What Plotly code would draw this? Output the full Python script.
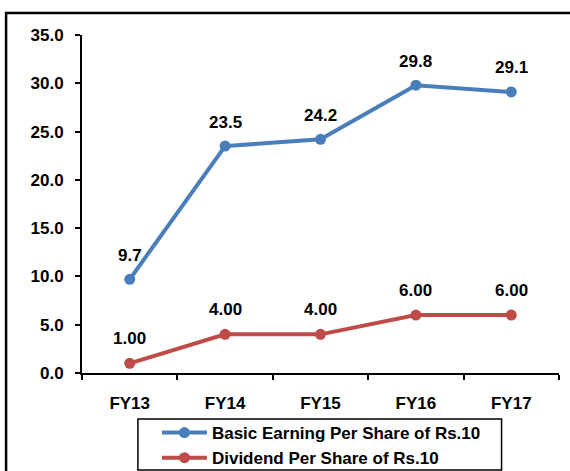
import plotly.graph_objects as go

categories = ["FY13", "FY14", "FY15", "FY16", "FY17"]
eps = [9.7, 23.5, 24.2, 29.8, 29.1]
dps = [1.00, 4.00, 4.00, 6.00, 6.00]
eps_labels = ["9.7", "23.5", "24.2", "29.8", "29.1"]
dps_labels = ["1.00", "4.00", "4.00", "6.00", "6.00"]
y_ticks = [0, 5, 10, 15, 20, 25, 30, 35]

BLUE = "#4A7EBB"
RED = "#BE4B48"
FONT = "Liberation Sans"

fig = go.Figure()
fig.add_trace(go.Scatter(x=categories, y=eps, mode="lines+markers",
                         name="Basic Earning Per Share of Rs.10",
                         legendgroup="a",
                         line=dict(color=BLUE, width=4),
                         marker=dict(size=11, color=BLUE)))
fig.add_trace(go.Scatter(x=categories, y=dps, mode="lines+markers",
                         name="Dividend Per Share of Rs.10",
                         legendgroup="b",
                         line=dict(color=RED, width=4),
                         marker=dict(size=11, color=RED)))

for c, v, t in zip(categories, eps, eps_labels):
    fig.add_annotation(x=c, y=v, text="<b>%s</b>" % t, showarrow=False,
                       yshift=24, font=dict(family=FONT, size=17, color="black"))
for c, v, t in zip(categories, dps, dps_labels):
    fig.add_annotation(x=c, y=v, text="<b>%s</b>" % t, showarrow=False,
                       yshift=25, font=dict(family=FONT, size=17, color="black"))

L, R, T, B = 82, 10.5, 35, 98
PW = 570 - L - R
PH = 471 - T - B


def px(x):
    return (x - L) / PW


def py(y):
    return (471 - B - y) / PH


# outer chart border (cropped at right/bottom)
fig.add_shape(type="rect", xref="paper", yref="paper",
              x0=px(6), x1=px(585), y0=py(490), y1=py(13),
              line=dict(color="black", width=2.5), layer="below")
# legend box
fig.add_shape(type="rect", xref="paper", yref="paper",
              x0=px(138), x1=px(502), y0=py(470), y1=py(419),
              line=dict(color="black", width=1.5), layer="below")

fig.update_layout(
    width=570, height=471,
    margin=dict(l=L, r=R, t=T, b=B, autoexpand=False),
    paper_bgcolor="white", plot_bgcolor="white",
    font=dict(family=FONT, size=17, color="black"),
    showlegend=True,
    legend=dict(x=px(157), y=py(415),
                xanchor="left", yanchor="top",
                borderwidth=0, bgcolor="rgba(0,0,0,0)",
                font=dict(family=FONT, size=17, color="black", weight="bold"),
                traceorder="grouped", tracegroupgap=0, itemwidth=45),
)
fig.update_xaxes(type="category", range=[-0.5, 4.5], showline=True,
                 linecolor="black", linewidth=2, ticks="outside",
                 tickson="boundaries", ticklen=5, tickcolor="black", tickwidth=1.5,
                 showgrid=False, ticklabelstandoff=14, tickangle=0,
                 tickfont=dict(family=FONT, size=17, color="black", weight="bold"))
fig.update_yaxes(range=[0, 35], tickvals=y_ticks,
                 ticktext=["%.1f" % v for v in y_ticks],
                 showline=True, linecolor="black", linewidth=2,
                 ticks="outside", ticklen=5, tickcolor="black", tickwidth=1.5,
                 showgrid=False, zeroline=False, ticklabelstandoff=8,
                 tickfont=dict(family=FONT, size=17, color="black", weight="bold"))

fig.write_html("out.html", config={"displayModeBar": False},
               post_script="document.body.style.margin='0px';")
